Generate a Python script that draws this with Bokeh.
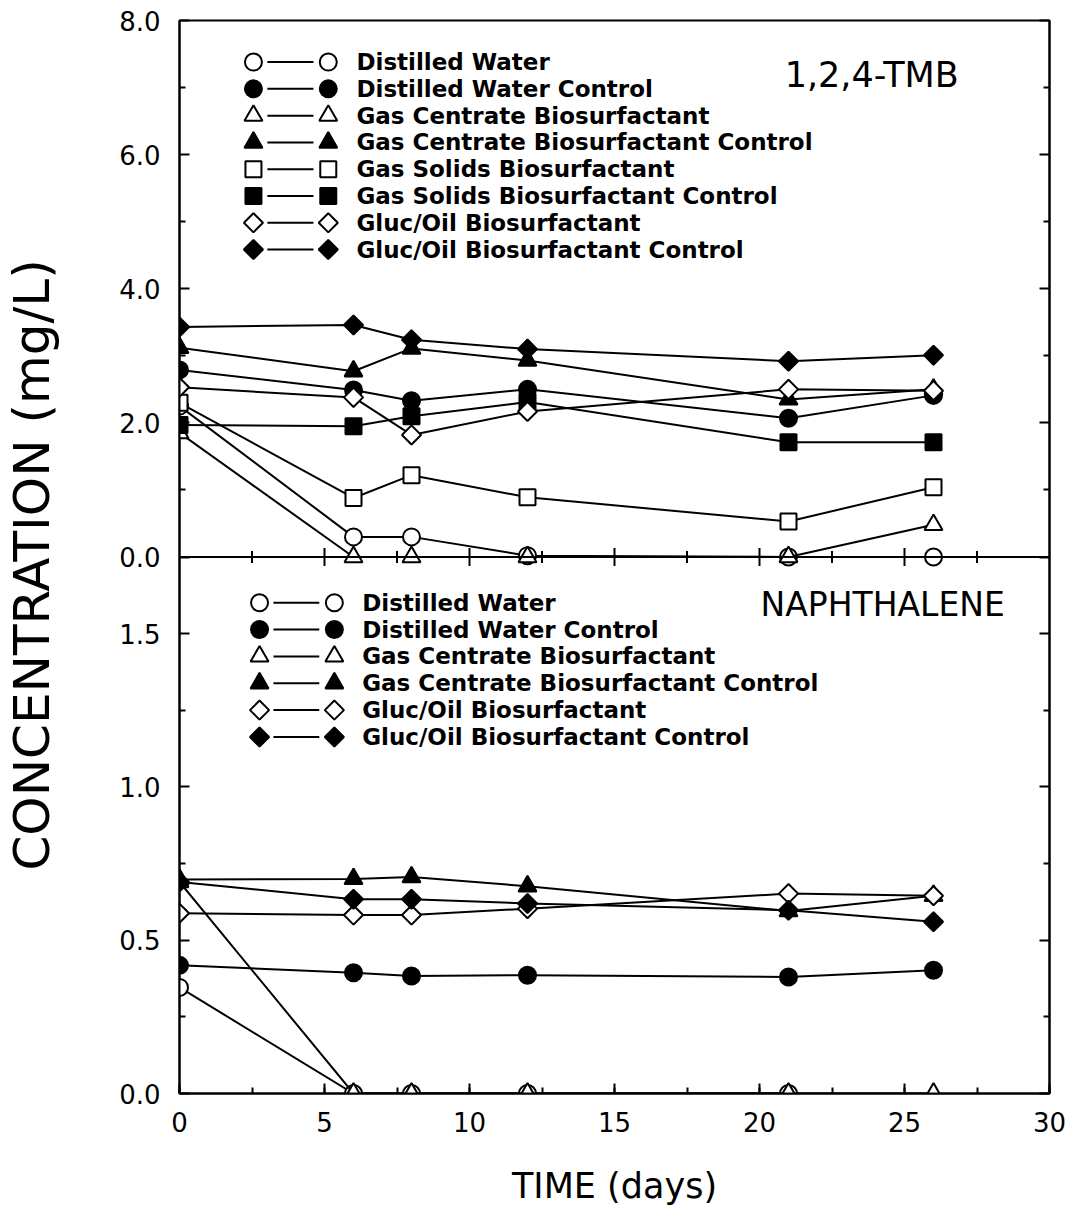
import math
from bokeh.plotting import figure
from bokeh.models import (Range1d, LinearAxis, SingleIntervalTicker, FixedTicker,
                          CustomJSTickFormatter, Label, Span)
from bokeh.embed import file_html
from bokeh.resources import INLINE
from bokeh.core.properties import value

FONT = "DejaVu Sans"

# ---------------- data ----------------
days = [0, 6, 8, 12, 21, 26]

# 1,2,4-TMB (mg/L)
tmb_dw = [2.25, 0.30, 0.30, 0.02, 0.0, 0.0]
tmb_dw_c = [2.79, 2.49, 2.33, 2.50, 2.07, 2.41]
tmb_gc = [1.85, 0.0, 0.0, 0.0, 0.0, 0.48]
tmb_gc_c = [3.12, 2.77, 3.11, 2.93, 2.35, 2.50]
tmb_gs = [2.30, 0.88, 1.22, 0.89, 0.53, 1.04]
tmb_gs_c = [1.97, 1.95, 2.10, 2.31, 1.71, 1.71]
tmb_go = [2.53, 2.38, 1.82, 2.17, 2.50, 2.48]
tmb_go_c = [3.43, 3.46, 3.24, 3.10, 2.92, 3.01]

# Naphthalene (mg/L)
naph_dw_days = [0, 6, 8, 12, 21]
naph_dw = [0.346, 0.0, 0.0, 0.0, 0.0]
naph_dw_c = [0.418, 0.394, 0.383, 0.386, 0.380, 0.402]
naph_gc = [0.69, 0.0, 0.0, 0.0, 0.0, 0.0]
naph_gc_c = [0.698, 0.700, 0.706, 0.676, 0.595, 0.645]
naph_go = [0.588, 0.582, 0.582, 0.603, 0.652, 0.645]
naph_go_c = [0.690, 0.634, 0.634, 0.620, 0.598, 0.560]

tmb_labels = ["Distilled Water", "Distilled Water Control",
              "Gas Centrate Biosurfactant", "Gas Centrate Biosurfactant Control",
              "Gas Solids Biosurfactant", "Gas Solids Biosurfactant Control",
              "Gluc/Oil Biosurfactant", "Gluc/Oil Biosurfactant Control"]
naph_labels = ["Distilled Water", "Distilled Water Control",
               "Gas Centrate Biosurfactant", "Gas Centrate Biosurfactant Control",
               "Gluc/Oil Biosurfactant", "Gluc/Oil Biosurfactant Control"]

# axis ticks
tmb_major = [0, 2, 4, 6, 8]
tmb_minor = [1, 3, 5, 7]
naph_major = [0.0, 0.5, 1.0, 1.5]
naph_minor = [0.25, 0.75, 1.25]
x_major_inner = [5, 10, 15, 20, 25]
x_minor_inner = [2.5, 7.5, 12.5, 17.5, 22.5, 27.5]

x_label = "TIME (days)"
y_label = "CONCENTRATION  (mg/L)"

# ---------------- ranges ----------------
# top half of the frame: 1,2,4-TMB 0..8 ; bottom half: naphthalene 0..1.75
y_main = Range1d(-8, 8)
y_naph = Range1d(0, 3.5)


def to_main(v):
    f = (v - y_naph.start) / (y_naph.end - y_naph.start)
    return y_main.start + f * (y_main.end - y_main.start)


p = figure(width=1071, height=1209, x_range=Range1d(0, 30), y_range=y_main,
           output_backend="svg", toolbar_location=None,
           min_border_left=178, min_border_right=22, min_border_top=20,
           min_border_bottom=116)
p.extra_y_ranges = {"naph": y_naph}
p.xgrid.visible = False
p.ygrid.visible = False
p.outline_line_color = "black"
p.outline_line_width = 2

y_ticker = FixedTicker(ticks=tmb_major + [to_main(v) for v in naph_major],
                       minor_ticks=tmb_minor + [to_main(v) for v in naph_minor])
y_fmt = CustomJSTickFormatter(args=dict(m=y_main, n=y_naph), code="""
if (tick >= -1e-9) return tick.toFixed(1);
const f = (tick - m.start) / (m.end - m.start);
return (n.start + f * (n.end - n.start)).toFixed(1);
""")


def tick_style(ax):
    ax.axis_line_width = 2
    ax.major_tick_line_width = 2
    ax.minor_tick_line_width = 2
    ax.major_tick_in = 10
    ax.major_tick_out = 0
    ax.minor_tick_in = 6
    ax.minor_tick_out = 0
    ax.major_label_text_font = FONT
    ax.major_label_text_font_size = "26px"
    ax.major_label_text_color = "black"


xa = p.xaxis[0]
tick_style(xa)
xa.ticker = SingleIntervalTicker(interval=5, num_minor_ticks=2)
xa.major_label_standoff = 18
xa.axis_label = x_label
xa.axis_label_text_font = FONT
xa.axis_label_text_font_size = "35px"
xa.axis_label_text_font_style = "normal"
xa.axis_label_text_color = "black"
xa.axis_label_standoff = 31

ya = p.yaxis[0]
tick_style(ya)
ya.ticker = y_ticker
ya.formatter = y_fmt
ya.major_label_standoff = 19
ya.axis_label = y_label
ya.axis_label_text_font = FONT
ya.axis_label_text_font_size = "50px"
ya.axis_label_text_font_style = "normal"
ya.axis_label_text_color = "black"
ya.axis_label_standoff = 55

right = LinearAxis(ticker=y_ticker,
                   formatter=CustomJSTickFormatter(code="return ''"))
tick_style(right)
right.major_label_text_color = None
right.major_label_standoff = 0
p.add_layout(right, "right")

# boundary between the two panels, with ticks crossing it
p.add_layout(Span(location=0, dimension="width", line_color="black",
                  line_width=2))
p.scatter(x_major_inner, [0] * len(x_major_inner), marker="dash",
          angle=math.pi / 2, size=18, line_color="black", line_width=2)
p.scatter(x_minor_inner, [0] * len(x_minor_inner), marker="dash",
          angle=math.pi / 2, size=12, line_color="black", line_width=2)

# ---------------- styles ----------------
MARK = {
    "circle": dict(marker="circle", size=17, angle=0.0),
    "triangle": dict(marker="triangle", size=18, angle=0.0),
    "square": dict(marker="square", size=16, angle=0.0),
    "diamond": dict(marker="square", size=13.5, angle=math.pi / 4),
}


def marks(x, y, shape, filled, rn):
    m = MARK[shape]
    p.scatter(x, y, marker=m["marker"], size=m["size"], angle=m["angle"],
              fill_color="black" if filled else "white", line_color="black",
              line_width=2, y_range_name=rn)


def series(x, y, shape, filled, rn="default"):
    p.line(x, y, line_color="black", line_width=2, y_range_name=rn)
    marks(x, y, shape, filled, rn)


def legend(labels, shapes, fills, xm1, xl1, xl2, xm2, xt, y0, dy, rn):
    ys = [y0 - i * dy for i in range(len(labels))]
    for yy, shp, f in zip(ys, shapes, fills):
        p.line([xl1, xl2], [yy, yy], line_color="black", line_width=2,
               y_range_name=rn)
        marks([xm1, xm2], [yy, yy], shp, f, rn)
    p.text(x=[xt] * len(labels), y=ys, text=labels, text_font=value(FONT),
           text_font_size="23px", text_font_style="bold",
           text_baseline="middle", text_align="left", text_color="black",
           y_range_name=rn)


# ---------------- top panel: 1,2,4-TMB ----------------
series(days, tmb_dw, "circle", False)
series(days, tmb_dw_c, "circle", True)
series(days, tmb_gc, "triangle", False)
series(days, tmb_gc_c, "triangle", True)
series(days, tmb_gs, "square", False)
series(days, tmb_gs_c, "square", True)
series(days, tmb_go, "diamond", False)
series(days, tmb_go_c, "diamond", True)

legend(tmb_labels,
       ["circle", "circle", "triangle", "triangle", "square", "square", "diamond", "diamond"],
       [False, True] * 4,
       2.55, 3.03, 4.62, 5.13, 6.10, 7.38, 0.3994, "default")
p.add_layout(Label(x=23.87, y=7.18, text="1,2,4-TMB", text_align="center",
                   text_baseline="middle", text_font=FONT,
                   text_font_size="35px", text_color="black"))

# ---------------- bottom panel: Naphthalene ----------------
series(naph_dw_days, naph_dw, "circle", False, "naph")
series(days, naph_dw_c, "circle", True, "naph")
series(days, naph_gc, "triangle", False, "naph")
series(days, naph_gc_c, "triangle", True, "naph")
series(days, naph_go, "diamond", False, "naph")
series(days, naph_go_c, "diamond", True, "naph")

legend(naph_labels,
       ["circle", "circle", "triangle", "triangle", "diamond", "diamond"],
       [False, True] * 3,
       2.76, 3.24, 4.82, 5.34, 6.30, 1.601, 0.0876, "naph")
p.add_layout(Label(x=24.25, y=1.595, y_range_name="naph", text="NAPHTHALENE",
                   text_align="center", text_baseline="middle",
                   text_font=FONT, text_font_size="33px", text_color="black"))

open("out.html", "w").write(file_html(p, INLINE))
